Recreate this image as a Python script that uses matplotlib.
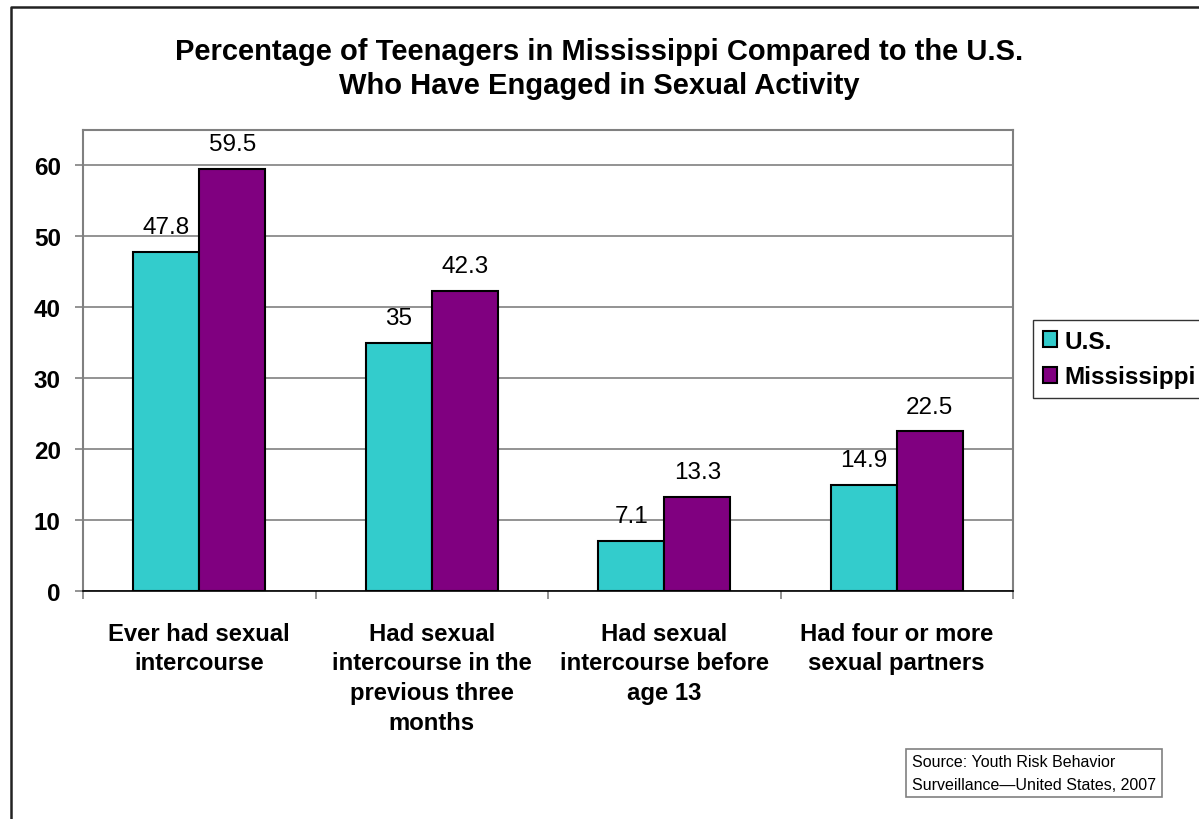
import matplotlib
matplotlib.use("Agg")
import matplotlib.pyplot as plt
from matplotlib.lines import Line2D
from matplotlib.patches import Patch
import numpy as np

plt.rcParams['font.family'] = ['Liberation Sans', 'DejaVu Sans']

categories = ["Ever had sexual\nintercourse",
              "Had sexual\nintercourse in the\nprevious three\nmonths",
              "Had sexual\nintercourse before\nage 13",
              "Had four or more\nsexual partners"]
us_values = [47.8, 35, 7.1, 14.9]
ms_values = [59.5, 42.3, 13.3, 22.5]
series_names = ["U.S.", "Mississippi"]
colors = ["#33CCCC", "#800080"]

fig = plt.figure(figsize=(11.99, 8.2), dpi=100)
ax = fig.add_axes([83 / 1199, 1 - 592 / 820, 930 / 1199, 461 / 820])

x = np.arange(len(categories))
w = 0.284
bars_us = ax.bar(x - w / 2, us_values, w, color=colors[0], edgecolor="black", linewidth=1.5, zorder=3)
bars_ms = ax.bar(x + w / 2, ms_values, w, color=colors[1], edgecolor="black", linewidth=1.5, zorder=3)

# value labels above bars
for bars, vals in [(bars_us, us_values), (bars_ms, ms_values)]:
    for b, v in zip(bars, vals):
        ax.annotate(f"{v:g}", xy=(b.get_x() + b.get_width() / 2, v), xytext=(0, 10),
                    textcoords="offset points", ha="center", va="bottom", fontsize=17.5)

ax.set_xlim(-0.5, 3.5)
ax.set_ylim(0, 65)
ax.set_yticks(range(0, 61, 10))
ax.yaxis.grid(True, color="#808080", linewidth=1.2, zorder=0)
ax.tick_params(axis="y", direction="out", length=6, width=1.2, color="#808080", pad=10,
               labelsize=17.5)
for lab in ax.get_yticklabels():
    lab.set_fontweight("bold")

# ticks at category boundaries, labels at centers
ax.set_xticks(np.arange(-0.5, 4, 1))
ax.set_xticklabels([])
ax.tick_params(axis="x", which="major", direction="out", length=6, width=1.2, color="#808080")
ax.set_xticks(x, minor=True)
ax.set_xticklabels(categories, minor=True, fontsize=17.2, fontweight="bold", linespacing=1.38)
ax.tick_params(axis="x", which="minor", length=0, pad=22)

for s in ["left", "top", "right"]:
    ax.spines[s].set_color("#808080")
    ax.spines[s].set_linewidth(1.5)
ax.spines["bottom"].set_color("black")
ax.spines["bottom"].set_linewidth(1.2)

fig.text(0.5, 1 - 69 / 820,
         "Percentage of Teenagers in Mississippi Compared to the U.S.\nWho Have Engaged in Sexual Activity",
         ha="center", va="center", fontsize=21, fontweight="bold", linespacing=1.25)

handles = [Patch(facecolor=c, edgecolor="black", linewidth=1.5) for c in colors]
leg = fig.legend(handles, series_names, loc="upper left", bbox_to_anchor=(1033 / 1199, 1 - 321 / 820),
                 frameon=True, fancybox=False, edgecolor="black", borderaxespad=0,
                 handlelength=0.6, handleheight=0.6, handletextpad=0.3, labelspacing=0.52,
                 borderpad=0.4, prop={"size": 17.5, "weight": "bold"})
leg.get_frame().set_linewidth(1.0)

fig.text(912 / 1199, 1 - 774 / 820, "Source: Youth Risk Behavior\nSurveillance\u2014United States, 2007",
         ha="left", va="center", fontsize=11.5, linespacing=1.6,
         bbox=dict(boxstyle="square,pad=0.35", facecolor="white", edgecolor="#808080", linewidth=1.2))

# outer chart border (extends beyond the image to the right and bottom)
fig.add_artist(Line2D([11 / 1199, 11 / 1199, 1.01], [-0.01, 1 - 8 / 820, 1 - 8 / 820],
                      transform=fig.transFigure, color="#222222", linewidth=1.8))

fig.savefig("out.png", dpi=100)
